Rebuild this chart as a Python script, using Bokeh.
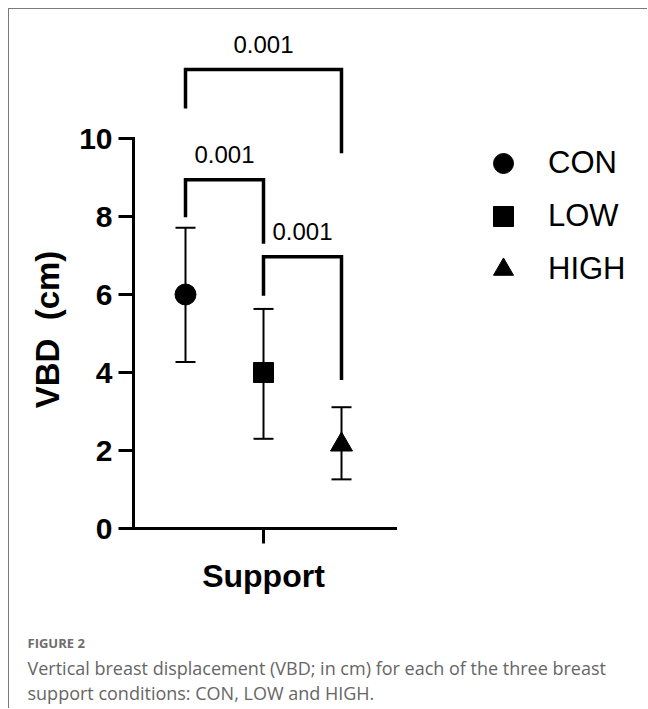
import math
from bokeh.plotting import figure
from bokeh.models import (ColumnDataSource, Whisker, TeeHead, Legend, LegendItem,
                          FixedTicker, Range1d, LinearAxis)
from bokeh.core.properties import value
from bokeh.embed import file_html
from bokeh.resources import INLINE

# ---- data ----
conditions = ["CON", "LOW", "HIGH"]
positions = [1, 2, 3]
vbd_mean = [6.0, 4.0, 2.15]
vbd_lower = [4.27, 2.30, 1.26]
vbd_upper = [7.71, 5.63, 3.11]
markers = ["circle", "square", "triangle"]

# significance brackets
bracket_left = [1, 2, 1]
bracket_right = [2, 3, 3]
bracket_top = [8.94, 6.97, 11.77]
bracket_left_end = [7.98, 5.97, 10.77]
bracket_right_end = [7.30, 3.81, 9.62]
bracket_p = ["0.001", "0.001", "0.001"]

y_ticks = [0, 2, 4, 6, 8, 10]
x_ticks = [2]

y_title = "VBD\u00a0\u00a0(cm)"
x_title = "Support"
caption_head = "FIGURE 2"
caption_lines = ["Vertical breast displacement (VBD; in cm) for each of the three breast",
                 "support conditions: CON, LOW and HIGH."]

FONT = "Liberation Sans"

# ---- layout ----
W, H = 639, 700          # canvas (page offset 9,9 by margin + border)
px_x = 78.0              # px per x unit
px_y = 39.0              # px per y unit
cx_first = 176           # canvas x of the first group
cy_zero = 519            # canvas y of y=0
x0 = positions[0] - cx_first / px_x
x1 = x0 + W / px_x
y1 = cy_zero / px_y
y0 = y1 - H / px_y
yaxis_at = positions[0] - 52 / px_x
xaxis_end = positions[1] + 132 / px_x

p = figure(width=W, height=H, output_backend="svg", toolbar_location=None,
           x_range=Range1d(x0, x1), y_range=Range1d(y0, y1),
           min_border=0, x_axis_type=None, y_axis_type=None)
p.styles = {"margin-left": "8px", "margin-top": "8px",
            "border-top": "1px solid #7a7a7a", "border-left": "1px solid #7a7a7a"}
p.outline_line_color = None
p.background_fill_color = "white"
p.border_fill_color = "white"
p.xgrid.visible = False
p.ygrid.visible = False


def style_axis(ax):
    ax.axis_line_width = 3
    ax.axis_line_color = "black"
    ax.axis_line_cap = "square"
    ax.major_tick_line_width = 3
    ax.major_tick_line_color = "black"
    ax.major_tick_out = 15
    ax.major_tick_in = 0
    ax.minor_tick_line_color = None


yax = LinearAxis(bounds=(0, 10), ticker=FixedTicker(ticks=y_ticks), fixed_location=yaxis_at)
style_axis(yax)
yax.major_label_text_font = FONT
yax.major_label_text_font_style = "bold"
yax.major_label_text_font_size = "30px"
yax.major_label_text_color = "black"
yax.major_label_standoff = 6
p.add_layout(yax, "left")

xax = LinearAxis(bounds=(yaxis_at, xaxis_end), ticker=FixedTicker(ticks=x_ticks),
                 fixed_location=0)
style_axis(xax)
xax.major_label_text_font_size = "0px"
xax.major_label_text_color = None
p.add_layout(xax, "below")

# error bars
src = ColumnDataSource(dict(x=positions, mean=vbd_mean, lower=vbd_lower,
                            upper=vbd_upper, cond=conditions))
p.add_layout(Whisker(base="x", upper="upper", lower="lower", source=src,
                     dimension="height", line_width=2, line_color="black",
                     upper_head=TeeHead(size=20, line_width=2, line_color="black"),
                     lower_head=TeeHead(size=20, line_width=2, line_color="black")))

items = []
sizes = {"circle": 21, "square": 20, "triangle": 22}
for i, c in enumerate(conditions):
    s = ColumnDataSource(dict(x=[positions[i]], y=[vbd_mean[i]]))
    r = p.scatter("x", "y", source=s, marker=markers[i], size=sizes[markers[i]],
                  fill_color="black", line_color="black")
    items.append(LegendItem(label=c, renderers=[r]))

# brackets
bxs, bys = [], []
for l, r_, t, le, re in zip(bracket_left, bracket_right, bracket_top,
                             bracket_left_end, bracket_right_end):
    bxs.append([l, l, r_, r_])
    bys.append([le, t, t, re])
p.multi_line(bxs, bys, line_width=3.5, line_color="black", line_join="miter")
mid = [(l + r_) / 2 for l, r_ in zip(bracket_left, bracket_right)]
p.text(x=mid, y=bracket_top, text=bracket_p, text_align="center",
       text_baseline="middle", y_offset=-25, text_font=value(FONT),
       text_font_size="24px", text_color="black")

legend = Legend(items=items, location=(469, 415), glyph_width=50, glyph_height=50,
                spacing=3, label_standoff=20, padding=0, margin=0,
                border_line_color=None, background_fill_alpha=0,
                label_text_font=FONT, label_text_font_size="31px",
                label_text_color="black")
p.add_layout(legend)

# axis titles
p.text(x=[yaxis_at], y=[5], text=[y_title], angle=math.pi / 2, x_offset=-86,
       y_offset=-4, text_align="center", text_baseline="middle", text_font=value(FONT),
       text_font_style="bold", text_font_size="33px", text_color="black")
p.text(x=[x_ticks[0]], y=[0], text=[x_title], y_offset=47, text_align="center",
       text_baseline="middle", text_font=value(FONT), text_font_style="bold",
       text_font_size="32px", text_color="black")

# caption
p.text(x=[yaxis_at], y=[0], text=[caption_head], x_offset=-106, y_offset=114,
       text_align="left", text_baseline="middle", text_font=value("Open Sans"),
       text_font_style="bold", text_font_size="13px", text_color="#6d6d6d")
p.text(x=[yaxis_at, yaxis_at], y=[0, 0], text=caption_lines, x_offset=-106,
       y_offset=[139, 164], text_align="left", text_baseline="middle",
       text_font=value("Open Sans"), text_font_size="18px", text_color="#666666")

open("out.html", "w").write(file_html(p, INLINE))
